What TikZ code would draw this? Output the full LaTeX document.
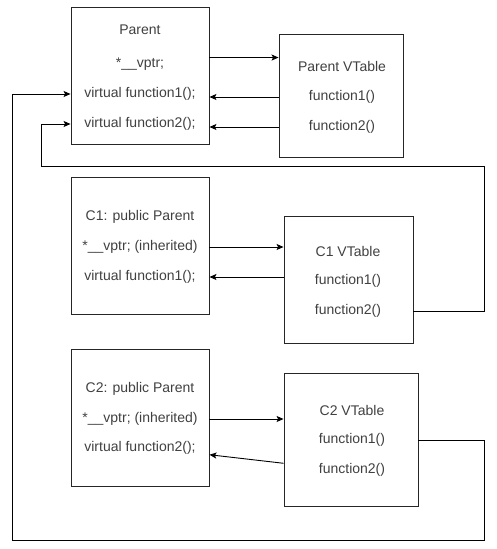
\documentclass[tikz,border=0pt]{standalone}
\usepackage{fontspec}
\setmainfont{Liberation Sans}
\usetikzlibrary{arrows.meta}

\begin{document}
\begin{tikzpicture}[x=1pt,y=1pt]
        \tikzstyle{every node}+=[inner sep=0pt, text=black!75, font=\fontsize{14}{16}\selectfont]
        \tikzstyle{box}=[draw=black!85, line width=0.9pt, minimum width=138, minimum height=137]
        \tikzstyle{link}=[draw=black, line width=0.9pt, -{Stealth[length=7pt,width=6pt,inset=1.5pt]}]
        \useasboundingbox (0,0) rectangle (496,-549);
        % Parent and its vtable
        \draw (140,-75.5) node [box] (pbox) {};
        \draw (140,-30) node (ptitle) {Parent};
        \draw (140,-64) node (pptr) {*\_\_vptr;};
        \draw (140,-94) node (pf1) {virtual function1();};
        \draw (140,-124) node (pf2) {virtual function2();};
        \draw (341,-95.5) node [box, minimum width=124, minimum height=123] (pvt) {};
        \draw (342,-66) node (pvtitle) {Parent VTable};
        \draw (342,-97) node (pvf1) {function1()};
        \draw (342,-127) node (pvf2) {function2()};
        % C1 and its vtable
        \draw (140,-245.5) node [box] (c1box) {};
        \draw (140,-217) node (c1title) {C1: public Parent};
        \draw (140,-247) node (c1ptr) {*\_\_vptr; (inherited)};
        \draw (140,-277) node (c1f1) {virtual function1();};
        \draw (348.5,-279.5) node [box, minimum width=129, minimum height=127] (c1vt) {};
        \draw (348,-251) node (c1vtitle) {C1 VTable};
        \draw (348,-281) node (c1vf1) {function1()};
        \draw (348,-311) node (c1vf2) {function2()};
        % C2 and its vtable
        \draw (140,-417.5) node [box] (c2box) {};
        \draw (140,-389) node (c2title) {C2: public Parent};
        \draw (140,-419) node (c2ptr) {*\_\_vptr; (inherited)};
        \draw (140,-448) node (c2f2) {virtual function2();};
        \draw (351,-439.5) node [box, minimum width=134, minimum height=133] (c2vt) {};
        \draw (352,-410) node (c2vtitle) {C2 VTable};
        \draw (352,-440) node (c2vf1) {function1()};
        \draw (352,-470) node (c2vf2) {function2()};
        % lanes of the two long links
        \coordinate (upR) at (484,-166);
        \coordinate (upL) at (41,-166);
        \coordinate (lowR) at (484,-540);
        \coordinate (lowL) at (12,-540);
        % pointers and entries
        \draw [link] (pbox.east |- pptr.north) -- (pvt.west |- pptr.north);
        \draw [link] (pvt.west |- pvf1) -- (pbox.east |- pvf1);
        \draw [link] (pvt.west |- pvf2) -- (pbox.east |- pvf2);
        \draw [link] (c1box.east |- c1ptr) -- (c1vt.west |- c1ptr);
        \draw [link] (c1vt.west |- c1f1) -- (c1box.east |- c1f1);
        \draw [link] (c2box.east |- c2ptr) -- (c2vt.west |- c2ptr);
        \draw [link] (c2vt.west |- c2vf2.north) -- (c2box.east |- c2f2.south);
        \draw [link] (c1vt.east |- c1vf2) -| (upR) -- (upL) |- (pbox.west |- pf2);
        \draw [link] (c2vt.east |- c2vf1) -| (lowR) -- (lowL) |- (pbox.west |- pf1);
\end{tikzpicture}
\end{document}
